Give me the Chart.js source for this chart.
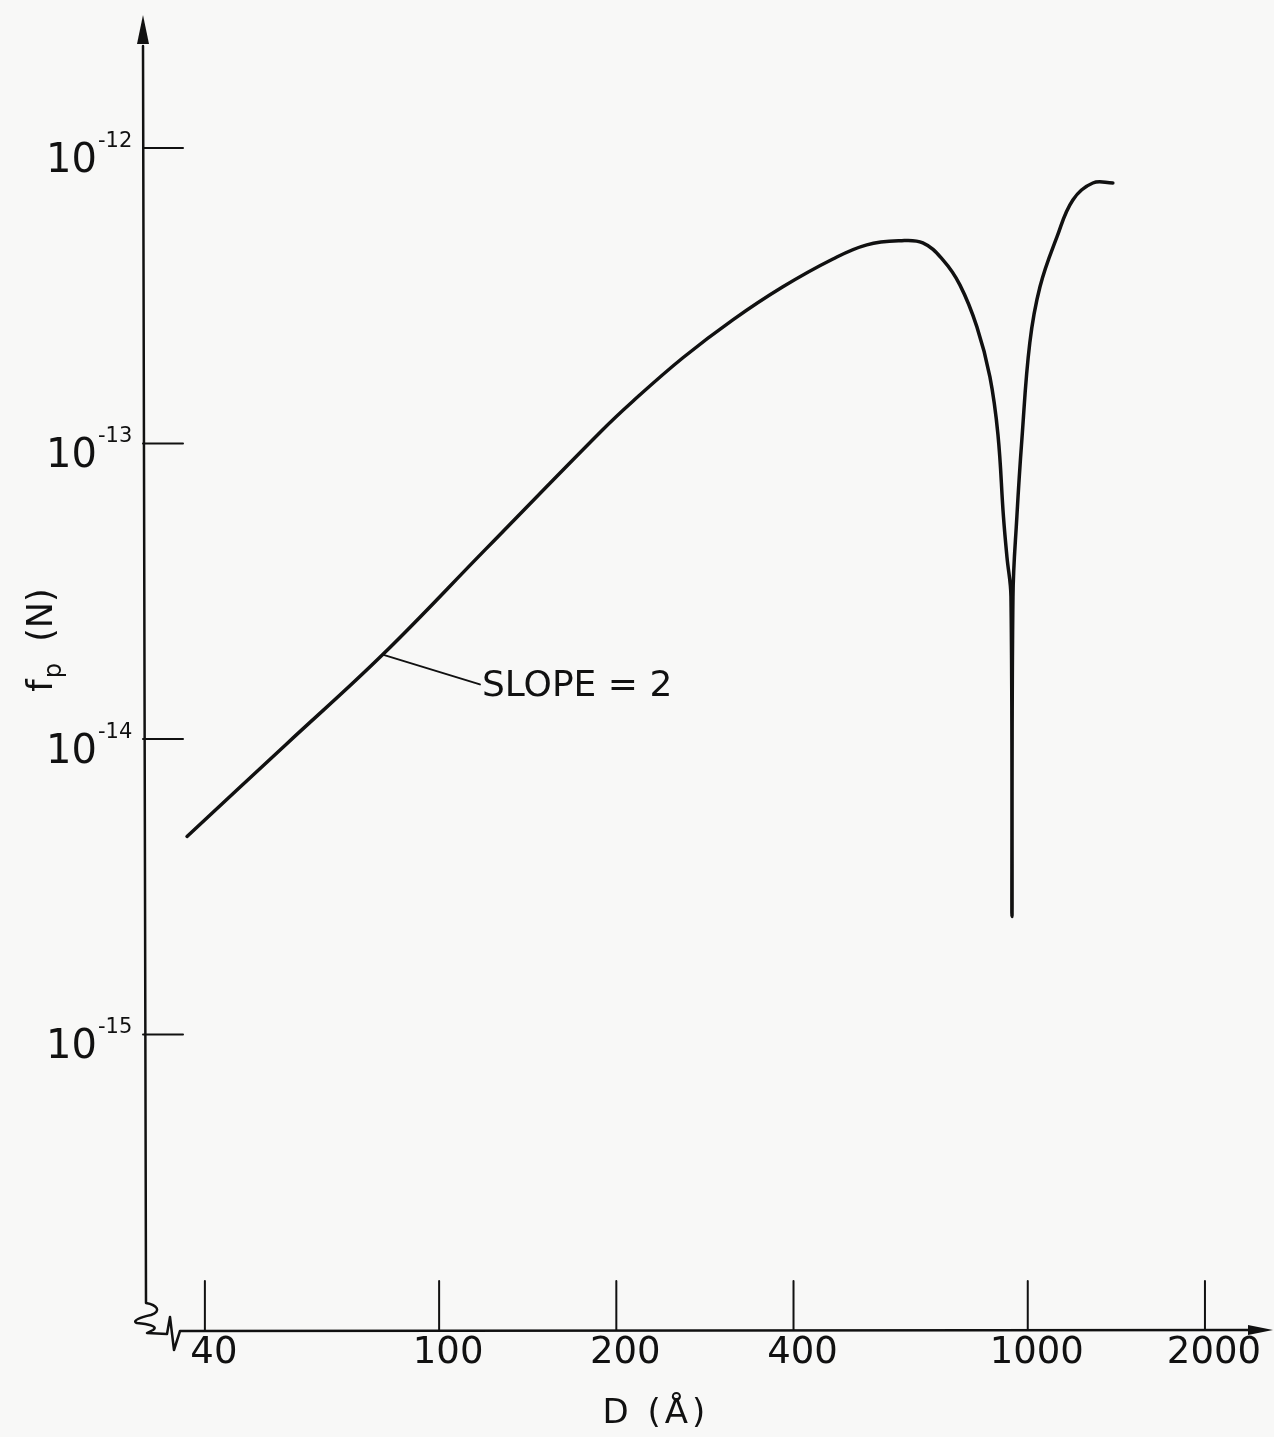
<!DOCTYPE html>
<html lang="en">
<head>
<meta charset="UTF-8">
<title>f_p vs D</title>
<script src="https://cdn.jsdelivr.net/npm/chart.js"></script>
<style>
  body { margin: 0; background: #f8f8f7; }
  #wrap { width: 1274px; height: 1437px; }
</style>
</head>
<body>
<div id="wrap"><canvas id="myChart"></canvas></div>

<script>
// D in angstrom, f_p in newtons
const dValues = [37.3, 55, 80.2, 120, 187.6, 213.4, 259.5, 315.5, 383.7, 466.7, 532.9, 606.4, 663.3,
  717.5, 766.8, 819.6, 862.4, 890, 909.3, 921.8, 936.4, 940.1, 943.8, 958.3, 977.2, 1008, 1049,
  1121, 1193, 1290, 1395];
const fValues = [4.68e-15, 9.6e-15, 1.93e-14, 4.39e-14, 1.09e-13, 1.39e-13, 1.95e-13, 2.62e-13, 3.39e-13,
  4.21e-13, 4.70e-13, 4.85e-13, 4.77e-13, 4.18e-13, 3.44e-13, 2.48e-13, 1.68e-13, 1.07e-13, 5.65e-14,
  4.13e-14, 3.03e-14, 2.51e-15, 3.03e-14, 5.65e-14, 1.03e-13, 2.19e-13, 3.39e-13, 5.00e-13, 6.67e-13,
  7.61e-13, 7.61e-13];

const xTicks = [40, 100, 200, 400, 1000, 2000];
const yTicks = [1e-12, 1e-13, 1e-14, 1e-15];
const yExponents = ['-12', '-13', '-14', '-15'];

// "SLOPE = 2" leader: from the curve to the label
const slopeFrom = { x: 80.2, y: 1.93e-14 };
const slopeTo = { x: 117.3, y: 1.53e-14 };

const ink = '#111';
const fam = '"DejaVu Sans", sans-serif';

const drawing = {
  id: 'drawing',
  afterDraw(chart) {
    const ctx = chart.ctx;
    const a = chart.chartArea;
    const x = chart.scales.x, y = chart.scales.y;
    const L = a.left, B = a.bottom;
    ctx.save();
    ctx.strokeStyle = ink;
    ctx.fillStyle = ink;
    ctx.lineCap = 'round';
    ctx.lineJoin = 'round';

    // y axis with arrow and break squiggle
    ctx.lineWidth = 2.5;
    ctx.beginPath();
    ctx.moveTo(L, a.top + 26);
    ctx.lineTo(L + 3, B - 27);
    ctx.bezierCurveTo(L + 14, B - 25, L + 19, B - 19, L + 8, B - 15);
    ctx.bezierCurveTo(L - 2, B - 13, L - 12, B - 9, L - 6, B - 7);
    ctx.bezierCurveTo(L + 4, B - 6, L + 16, B - 4, L + 10, B);
    ctx.lineTo(L + 4, B + 3);
    ctx.lineTo(L + 24, B + 4);
    ctx.lineTo(L + 27, B - 13);
    ctx.lineTo(L + 31, B + 20);
    ctx.lineTo(L + 37, B + 1);
    ctx.lineTo(a.right - 12, B);
    ctx.stroke();

    ctx.beginPath();
    ctx.moveTo(L, a.top - 5);
    ctx.lineTo(L - 6, a.top + 24);
    ctx.lineTo(L + 6, a.top + 24);
    ctx.closePath();
    ctx.fill();

    ctx.beginPath();
    ctx.moveTo(a.right + 11, B);
    ctx.lineTo(a.right - 14, B - 5);
    ctx.lineTo(a.right - 14, B + 5);
    ctx.closePath();
    ctx.fill();

    // tick marks point into the plot
    ctx.lineWidth = 2;
    xTicks.forEach(v => {
      const px = x.getPixelForValue(v);
      ctx.beginPath();
      ctx.moveTo(px, B);
      ctx.lineTo(px, B - 49);
      ctx.stroke();
    });
    yTicks.forEach((v, i) => {
      const py = y.getPixelForValue(v);
      ctx.beginPath();
      ctx.moveTo(L, py);
      ctx.lineTo(L + 40, py);
      ctx.stroke();
      // 10 with raised exponent
      ctx.textBaseline = 'alphabetic';
      ctx.font = '40px ' + fam;
      ctx.textAlign = 'right';
      ctx.fillText('10', L - 46, py + 24);
      ctx.font = '21px ' + fam;
      ctx.textAlign = 'left';
      ctx.fillText(yExponents[i], L - 45, py - 1);
    });

    // y title: f_p (N), rotated
    ctx.save();
    ctx.translate(52, 640);
    ctx.rotate(-Math.PI / 2);
    ctx.textAlign = 'left';
    ctx.textBaseline = 'alphabetic';
    ctx.font = '35px ' + fam;
    const wf = ctx.measureText('f').width;
    const wr = ctx.measureText('  (N)').width;
    ctx.font = '24px ' + fam;
    const wp = ctx.measureText('p').width;
    let sx = -(wf + wp + wr) / 2;
    ctx.font = '35px ' + fam;
    ctx.fillText('f', sx, 0);
    ctx.font = '24px ' + fam;
    ctx.fillText('p', sx + wf + 1, 9);
    ctx.font = '35px ' + fam;
    ctx.fillText('  (N)', sx + wf + wp, 0);
    ctx.restore();

    // x title
    ctx.font = '34px ' + fam;
    ctx.textAlign = 'center';
    ctx.textBaseline = 'alphabetic';
    ctx.letterSpacing = '4px';
    ctx.fillText('D (Å)', 656, 1423);
    ctx.letterSpacing = '0px';

    // slope annotation
    const p0x = x.getPixelForValue(slopeFrom.x), p0y = y.getPixelForValue(slopeFrom.y);
    const p1x = x.getPixelForValue(slopeTo.x), p1y = y.getPixelForValue(slopeTo.y);
    ctx.lineWidth = 2;
    ctx.beginPath();
    ctx.moveTo(p0x, p0y);
    ctx.lineTo(p1x, p1y);
    ctx.stroke();
    ctx.font = '36px ' + fam;
    ctx.textAlign = 'left';
    ctx.fillText('SLOPE = 2', p1x + 2, p1y + 12);

    ctx.restore();
  }
};

new Chart(document.getElementById('myChart'), {
  type: 'line',
  data: {
    datasets: [{
      data: dValues.map((d, i) => ({ x: d, y: fValues[i] })),
      borderColor: ink,
      borderWidth: 3.5,
      borderCapStyle: 'round',
      borderJoinStyle: 'round',
      pointRadius: 0,
      fill: false,
      tension: 0.4
    }]
  },
  options: {
    responsive: true,
    maintainAspectRatio: false,
    animation: false,
    layout: { padding: { top: 20, right: 12, left: 0, bottom: 0 } },
    plugins: { legend: { display: false }, tooltip: { enabled: false } },
    scales: {
      x: {
        type: 'logarithmic',
        min: 31.4,
        max: 2500,
        afterFit: s => { s.height = 107; },
        afterBuildTicks: s => { s.ticks = xTicks.map(v => ({ value: v })); },
        grid: { display: false, drawTicks: false },
        border: { display: false },
        ticks: {
          autoSkip: false,
          maxRotation: 0,
          padding: 1,
          labelOffset: 9,
          color: ink,
          font: { family: fam, size: 37 },
          callback: v => String(v)
        }
      },
      y: {
        type: 'logarithmic',
        min: 1e-16,
        max: 2.71e-12,
        afterFit: s => { s.width = 143; },
        afterBuildTicks: s => { s.ticks = yTicks.map(v => ({ value: v })); },
        grid: { display: false, drawTicks: false },
        border: { display: false },
        ticks: { display: false }
      }
    }
  },
  plugins: [drawing]
});
</script>
</body>
</html>
